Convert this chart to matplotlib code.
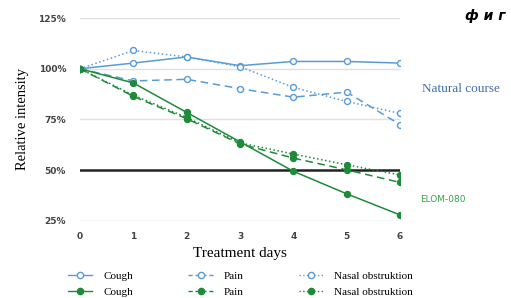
import matplotlib
matplotlib.use('Agg')
import matplotlib.pyplot as plt
from matplotlib.lines import Line2D

days = [0, 1, 2, 3, 4, 5, 6]

# natural course (blue)
nat_cough = [100, 102.8, 105.8, 101.5, 103.6, 103.6, 102.8]
nat_pain = [100, 94, 94.8, 90.2, 86, 88.5, 72.5]
nat_nasal = [100, 109, 105.8, 101, 90.8, 83.9, 78]

# ELOM-080 (green)
elom_cough = [100, 93, 78.5, 64, 49.5, 38.4, 28]
elom_pain = [100, 86.4, 75.4, 63, 56, 50.2, 44]
elom_nasal = [100, 87, 76, 63.5, 58, 52.7, 47.7]

yticks = [25, 50, 75, 100, 125]
ytick_labels = ['25%', '50%', '75%', '100%', '125%']

blue = '#5b9bd5'
green = '#1e8a3a'
serif = 'Liberation Serif'

fig = plt.figure(figsize=(5.11, 2.98), dpi=100)
ax = fig.add_axes([80 / 511, 1 - 221 / 298, 320 / 511, 203 / 298])

for y in yticks:
    if y != 50:
        ax.axhline(y, color='#e0e0e0', lw=1, zorder=0)
ax.axhline(50, color='#222222', lw=1.8, zorder=1)

mk = dict(marker='o', markersize=4.3, lw=1.1)
ax.plot(days, nat_cough, color=blue, ls='-', mfc='white', mec=blue, **mk)
ax.plot(days, nat_pain, color=blue, ls=(0, (5, 3)), mfc='white', mec=blue, **mk)
ax.plot(days, nat_nasal, color=blue, ls=':', mfc='white', mec=blue, **mk)
ax.plot(days, elom_cough, color=green, ls='-', mfc=green, mec=green, **mk)
ax.plot(days, elom_pain, color=green, ls=(0, (5, 3)), mfc=green, mec=green, **mk)
ax.plot(days, elom_nasal, color=green, ls=':', mfc=green, mec=green, **mk)

ax.set_xlim(0, 6)
ax.set_ylim(25, 125)
ax.set_xticks(days)
ax.set_yticks(yticks)
ax.set_yticklabels(ytick_labels)
ax.tick_params(length=0, labelsize=6.5, labelcolor='#444444')
ax.tick_params(axis='x', pad=8)
ax.tick_params(axis='y', pad=10)
for lab in ax.get_xticklabels() + ax.get_yticklabels():
    lab.set_fontweight('bold')
for s in ax.spines.values():
    s.set_visible(False)

ax.set_xlabel('Treatment days', family=serif, fontsize=11, labelpad=4)
ax.set_ylabel('Relative intensity', family=serif, fontsize=10.5, labelpad=7)

fig.text(422 / 511, 1 - 89 / 298, 'Natural course', family=serif, fontsize=9.5,
         color='#3f6fa8', va='center')
fig.text(420 / 511, 1 - 199 / 298, 'ELOM-080', fontsize=6.5, color='#3aa04a',
         va='center')
fig.text(505 / 511, 1 - 16 / 298, 'ф и г', fontsize=10, fontweight='bold',
         style='italic', ha='right', va='center')

handles = [
    Line2D([], [], color=blue, ls='-', marker='o', mfc='white', ms=4.5, lw=1),
    Line2D([], [], color=green, ls='-', marker='o', mfc=green, ms=4.5, lw=1),
    Line2D([], [], color=blue, ls=(0, (3, 2)), marker='o', mfc='white', ms=4.5, lw=1),
    Line2D([], [], color=green, ls=(0, (3, 2)), marker='o', mfc=green, ms=4.5, lw=1),
    Line2D([], [], color=blue, ls=':', marker='o', mfc='white', ms=4.5, lw=1),
    Line2D([], [], color=green, ls=':', marker='o', mfc=green, ms=4.5, lw=1),
]
labels = ['Cough', 'Cough', 'Pain', 'Pain', 'Nasal obstruktion', 'Nasal obstruktion']
fig.legend(handles, labels, ncol=3, loc='center left',
           bbox_to_anchor=(58 / 511, 1 - 284 / 298), frameon=False,
           prop={'family': serif, 'size': 8}, handlelength=2.2,
           handletextpad=1.0, columnspacing=4.95, labelspacing=0.55)

fig.savefig('out.png', dpi=100)
